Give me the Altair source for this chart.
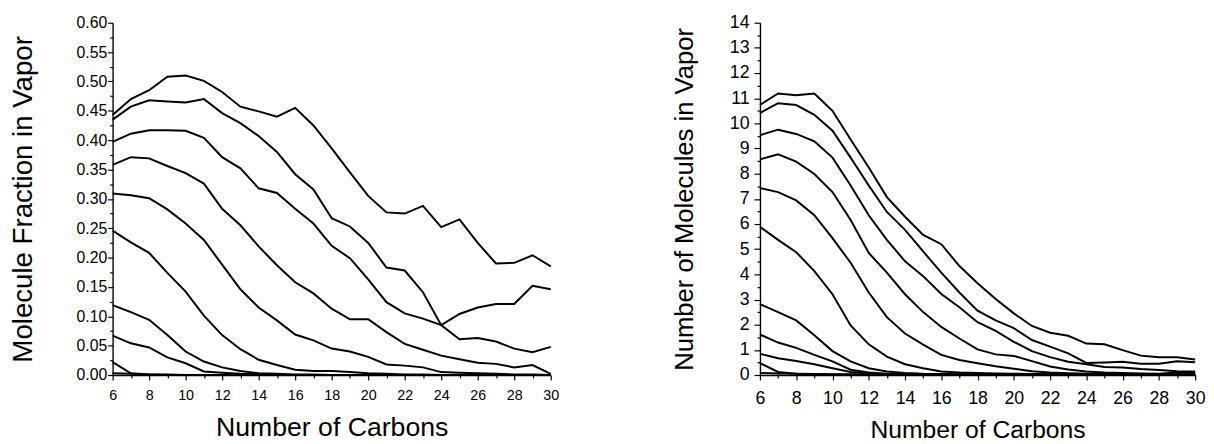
import altair as alt
import pandas as pd

carbons = list(range(6, 31))

# Left panel: molecule fraction in vapor (10 curves)
frac_1 = [0.443,0.470,0.485,0.508,0.510,0.501,0.482,0.457,0.449,0.440,0.455,0.425,0.386,0.345,0.305,0.277,0.275,0.288,0.252,0.265,0.225,0.190,0.191,0.204,0.185]
frac_2 = [0.435,0.457,0.468,0.466,0.464,0.470,0.446,0.429,0.407,0.380,0.342,0.316,0.267,0.253,0.225,0.183,0.178,0.141,0.085,0.104,0.115,0.121,0.121,0.152,0.146]
frac_3 = [0.397,0.411,0.417,0.417,0.416,0.404,0.371,0.352,0.318,0.310,0.283,0.258,0.220,0.199,0.163,0.124,0.105,0.096,0.085,0.061,0.063,0.057,0.045,0.039,0.048]
frac_4 = [0.358,0.371,0.369,0.356,0.344,0.326,0.283,0.255,0.219,0.187,0.158,0.139,0.113,0.095,0.095,0.073,0.053,0.043,0.033,0.027,0.021,0.019,0.013,0.017,0.002]
frac_5 = [0.309,0.306,0.301,0.282,0.258,0.230,0.188,0.146,0.115,0.093,0.069,0.059,0.045,0.040,0.031,0.018,0.016,0.013,0.005,0.004,0.003,0.002,0.001,0.001,0.000]
frac_6 = [0.246,0.226,0.208,0.174,0.142,0.101,0.068,0.044,0.026,0.017,0.009,0.007,0.007,0.005,0.003,0.002,0.001,0.001,0.000,0.000,0.000,0.000,0.000,0.000,0.000]
frac_7 = [0.119,0.107,0.094,0.068,0.040,0.023,0.013,0.007,0.003,0.002,0.001,0.001,0.000,0.000,0.000,0.000,0.000,0.000,0.000,0.000,0.000,0.000,0.000,0.000,0.000]
frac_8 = [0.067,0.054,0.047,0.030,0.020,0.006,0.004,0.002,0.001,0.000,0.000,0.000,0.000,0.000,0.000,0.000,0.000,0.000,0.000,0.000,0.000,0.000,0.000,0.000,0.000]
frac_9 = [0.022,0.003,0.001,0.000,0.000,0.000,0.000,0.000,0.000,0.000,0.000,0.000,0.000,0.000,0.000,0.000,0.000,0.000,0.000,0.000,0.000,0.000,0.000,0.000,0.000]
frac_10 = [0.003,0.002,0.001,0.001,0.000,0.000,0.000,0.000,0.000,0.000,0.000,0.000,0.000,0.000,0.000,0.000,0.000,0.000,0.000,0.000,0.000,0.000,0.000,0.000,0.000]

# Right panel: number of molecules in vapor (11 curves)
num_1 = [10.73,11.19,11.12,11.19,10.50,9.36,8.25,7.07,6.29,5.57,5.20,4.33,3.65,3.02,2.45,1.95,1.68,1.56,1.25,1.22,0.99,0.77,0.71,0.71,0.62]
num_2 = [10.41,10.80,10.73,10.34,9.71,8.64,7.53,6.48,5.77,4.91,4.07,3.28,2.56,2.17,1.86,1.39,1.13,0.86,0.48,0.50,0.53,0.45,0.45,0.55,0.51]
num_3 = [9.53,9.75,9.58,9.29,8.64,7.53,6.35,5.37,4.52,3.93,3.22,2.69,2.10,1.75,1.32,0.95,0.71,0.53,0.43,0.32,0.30,0.24,0.20,0.15,0.14]
num_4 = [8.57,8.77,8.48,7.99,7.27,6.16,4.85,4.07,3.21,2.50,1.91,1.45,1.02,0.82,0.76,0.55,0.34,0.22,0.14,0.10,0.08,0.06,0.05,0.10,0.12]
num_5 = [7.43,7.27,6.94,6.35,5.44,4.46,3.28,2.30,1.65,1.21,0.80,0.60,0.47,0.35,0.25,0.15,0.10,0.07,0.05,0.04,0.03,0.03,0.02,0.02,0.02]
num_6 = [5.89,5.37,4.88,4.13,3.21,1.97,1.22,0.73,0.43,0.27,0.14,0.10,0.08,0.06,0.05,0.04,0.03,0.03,0.02,0.02,0.02,0.02,0.01,0.01,0.01]
num_7 = [2.82,2.50,2.17,1.58,0.95,0.54,0.27,0.14,0.08,0.05,0.04,0.03,0.02,0.02,0.01,0.01,0.01,0.01,0.01,0.01,0.01,0.01,0.01,0.01,0.01]
num_8 = [1.61,1.29,1.08,0.80,0.54,0.21,0.10,0.05,0.03,0.02,0.01,0.01,0.01,0.01,0.01,0.01,0.01,0.01,0.01,0.01,0.01,0.01,0.01,0.01,0.01]
num_9 = [0.84,0.67,0.56,0.43,0.27,0.12,0.06,0.03,0.02,0.01,0.01,0.01,0.01,0.01,0.01,0.01,0.01,0.01,0.01,0.01,0.01,0.01,0.01,0.01,0.01]
num_10 = [0.47,0.12,0.05,0.03,0.02,0.01,0.01,0.01,0.01,0.01,0.01,0.01,0.01,0.01,0.01,0.01,0.01,0.01,0.01,0.01,0.01,0.01,0.01,0.01,0.01]
num_11 = [0.08,0.06,0.05,0.04,0.03,0.03,0.02,0.02,0.02,0.02,0.02,0.02,0.02,0.02,0.02,0.02,0.02,0.02,0.02,0.02,0.02,0.02,0.02,0.02,0.02]

left_ticks_y = [round(i * 0.025, 3) for i in range(0, 25)]
right_ticks_y = [i * 0.5 for i in range(0, 29)]
ticks_x = list(range(6, 31))

left_series = [frac_1, frac_2, frac_3, frac_4, frac_5, frac_6, frac_7, frac_8, frac_9, frac_10]
right_series = [num_1, num_2, num_3, num_4, num_5, num_6, num_7, num_8, num_9, num_10, num_11]

def long_df(series_list):
    rows = []
    for k, s in enumerate(series_list):
        for c, v in zip(carbons, s):
            rows.append({"series": k, "carbon": c, "value": v})
    return pd.DataFrame(rows)

FONT = "Liberation Sans"

def x_axis(label_size, label_pad, title_size, title_pad):
    return alt.Axis(
        values=ticks_x,
        labelExpr="datum.value % 2 == 1 ? '' : datum.label",
        tickSize={"condition": {"test": "datum.value % 2 == 1", "value": 3}, "value": 5},
        labelFontSize=label_size, labelFont=FONT, labelColor="black",
        labelPadding=label_pad, labelFlush=False,
        title="Number of Carbons", titleFontSize=title_size, titleFont=FONT,
        titleFontWeight="normal", titleColor="black", titlePadding=title_pad,
        domainColor="black", domainWidth=1.4, tickColor="black", tickWidth=1.2,
        grid=False,
    )

left_df = long_df(left_series)
right_df = long_df(right_series)

left = alt.Chart(left_df).mark_line(color="black", strokeWidth=2).encode(
    x=alt.X("carbon:Q", scale=alt.Scale(domain=[6, 30], nice=False, zero=False),
            axis=x_axis(14.5, 9, 27, 13)),
    y=alt.Y("value:Q", scale=alt.Scale(domain=[0, 0.6], nice=False),
            axis=alt.Axis(
                values=left_ticks_y,
                labelExpr="round(datum.value * 40) % 2 == 1 ? '' : format(datum.value, '.2f')",
                tickSize={"condition": {"test": "round(datum.value * 40) % 2 == 1", "value": 3}, "value": 5},
                labelFontSize=16, labelFont=FONT, labelColor="black", labelPadding=1,
                title="Molecule Fraction in Vapor", titleFontSize=28, titleFont=FONT,
                titleFontWeight="normal", titleColor="black", titlePadding=39,
                domainColor="black", domainWidth=1.4, tickColor="black", tickWidth=1.2,
                grid=False,
            )),
    detail="series:N",
).properties(width=444, height=357)

right = alt.Chart(right_df).mark_line(color="black", strokeWidth=2).encode(
    x=alt.X("carbon:Q", scale=alt.Scale(domain=[6, 30], nice=False, zero=False),
            axis=x_axis(18, 10, 25, 10)),
    y=alt.Y("value:Q", scale=alt.Scale(domain=[0, 14], nice=False),
            axis=alt.Axis(
                values=right_ticks_y,
                labelExpr="round(datum.value * 2) % 2 == 1 ? '' : format(datum.value, 'd')",
                tickSize={"condition": {"test": "round(datum.value * 2) % 2 == 1", "value": 3}, "value": 6},
                labelFontSize=18, labelFont=FONT, labelColor="black", labelPadding=5,
                title="Number of Molecules in Vapor", titleFontSize=26, titleFont=FONT,
                titleFontWeight="normal", titleColor="black", titlePadding=32,
                domainColor="black", domainWidth=1.4, tickColor="black", tickWidth=1.2,
                grid=False,
            )),
    detail="series:N",
).properties(width=441, height=357)

chart = alt.hconcat(left, right, spacing=212, bounds="flush").properties(
    padding={"left": 1, "top": 3, "right": 0, "bottom": 0}
).configure_view(stroke=None)

chart.save("out.html", embed_options={"renderer": "svg", "actions": False})
